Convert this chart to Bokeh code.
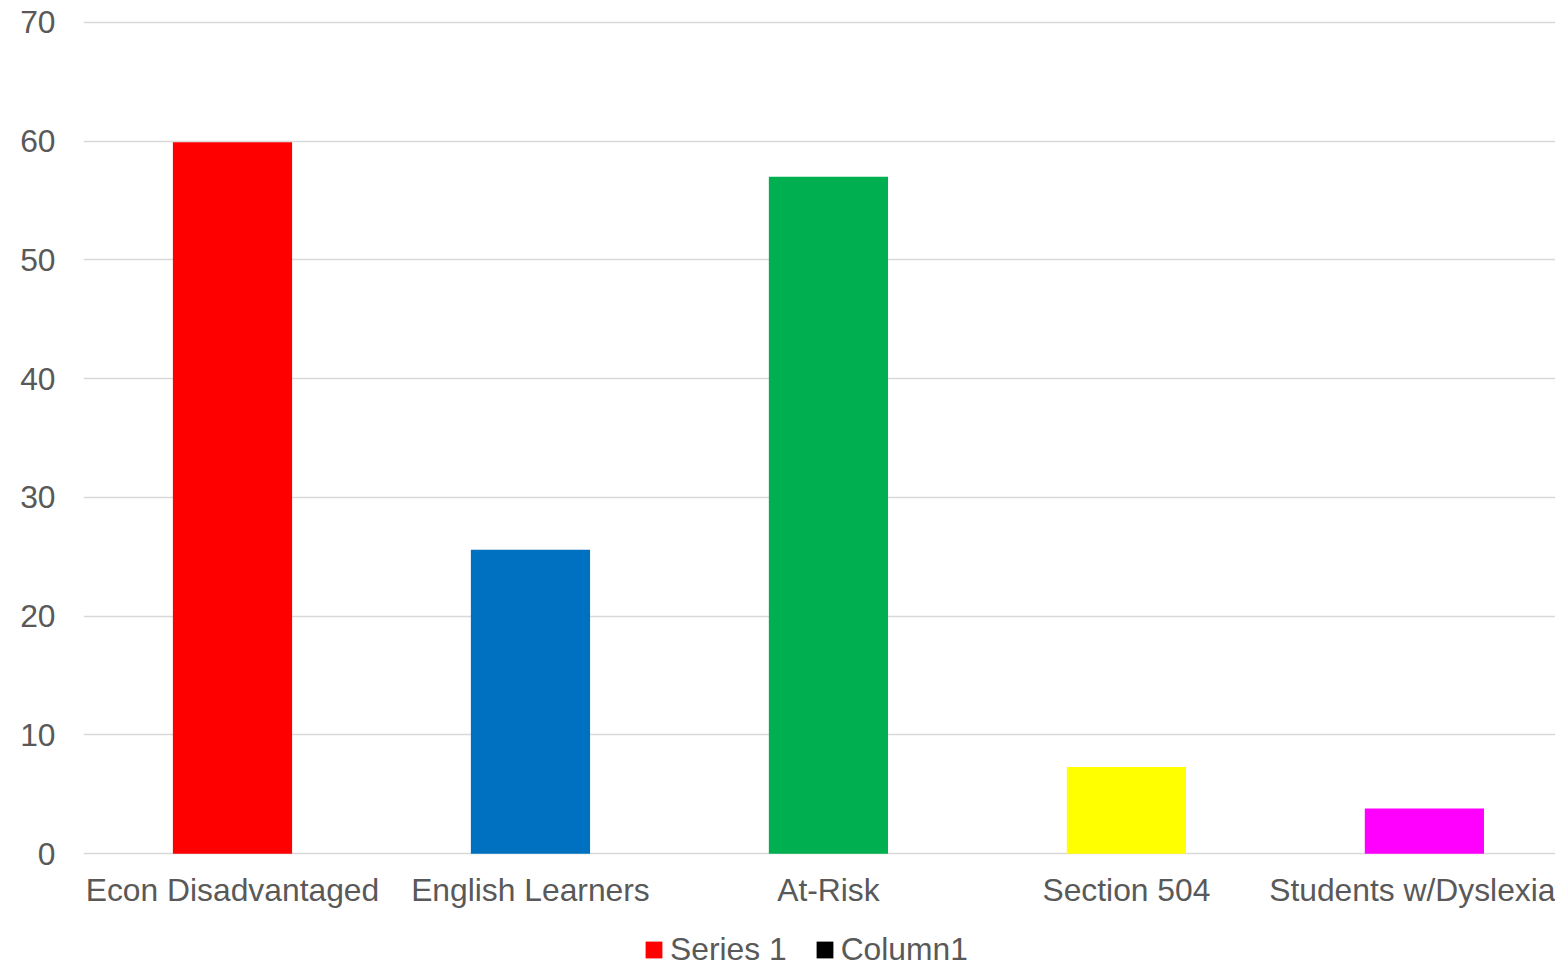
from bokeh.plotting import figure
from bokeh.models import (Range1d, FixedTicker, Legend, LegendItem, ColumnDataSource)
from bokeh.embed import file_html
from bokeh.resources import INLINE

categories = ["Econ Disadvantaged", "English Learners", "At-Risk", "Section 504", "Students w/Dyslexia"]
series1 = [59.9, 25.6, 57.0, 7.3, 3.8]
column1 = [0, 0, 0, 0, 0]
colors = ["#FF0000", "#0070C0", "#00B050", "#FFFF00", "#FF00FF"]
y_ticks = [0, 10, 20, 30, 40, 50, 60, 70]
legend_labels = ["Series 1", "Column1"]

FONT = "Liberation Sans"
TXT = "#595959"
FS = "31.8px"

xs = [i + 0.5 for i in range(len(categories))]
src = ColumnDataSource(dict(x=xs, top=series1, c1=column1, color=colors))

p = figure(width=1555, height=967, output_backend="svg", toolbar_location=None,
           x_range=Range1d(0, 4.94), y_range=Range1d(-9.58, 70.15),
           min_border_left=83, min_border_right=0, min_border_top=20, min_border_bottom=0)
p.outline_line_color = None
p.background_fill_color = "white"

bars = p.vbar(x="x", top="top", bottom=0, width=0.4, fill_color="color",
              line_color=None, source=src)
bars_c1 = p.vbar(x="x", top="c1", bottom=0, width=0.4, fill_color="#000000",
                 line_color=None, source=src)

p.xgrid.grid_line_color = None
p.ygrid.grid_line_color = "#D9D9D9"
p.ygrid.grid_line_width = 1.5
p.ygrid.ticker = FixedTicker(ticks=y_ticks)

p.yaxis.ticker = FixedTicker(ticks=y_ticks)
p.xaxis.ticker = FixedTicker(ticks=xs)
p.xaxis.major_label_overrides = {x: c for x, c in zip(xs, categories)}
p.xaxis.fixed_location = 0
for ax in (p.xaxis[0], p.yaxis[0]):
    ax.axis_line_color = None
    ax.major_tick_line_color = None
    ax.minor_tick_line_color = None
    ax.major_tick_out = 0
    ax.major_tick_in = 0
    ax.major_label_text_font = FONT
    ax.major_label_text_font_size = FS
    ax.major_label_text_color = TXT
p.yaxis.major_label_standoff = 28
p.xaxis.major_label_standoff = 18

items = [LegendItem(label=legend_labels[0], renderers=[bars], index=0),
         LegendItem(label=legend_labels[1], renderers=[bars_c1], index=0)]

legend = Legend(items=items, orientation="horizontal", location=(560, -1),
                glyph_width=21, glyph_height=21, label_standoff=6, spacing=27,
                padding=0, margin=0, border_line_color=None, background_fill_alpha=0,
                label_text_font=FONT, label_text_font_size=FS, label_text_color=TXT)
p.add_layout(legend, "center")

open("out.html", "w").write(file_html(p, INLINE))
